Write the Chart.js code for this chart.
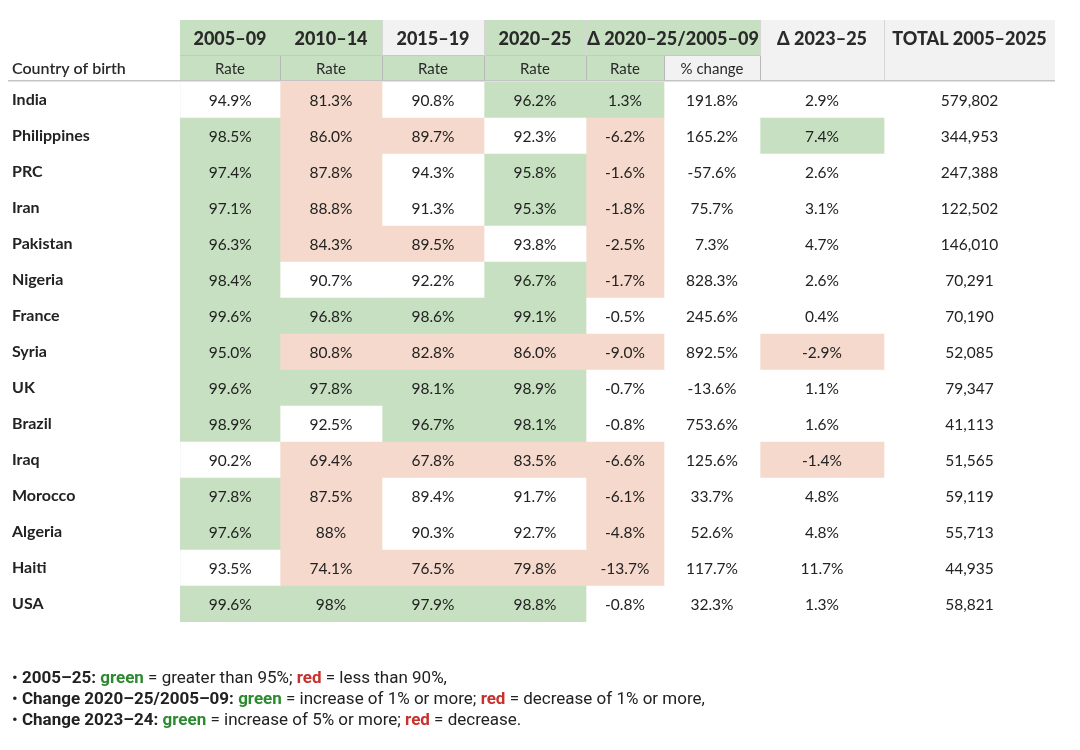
<!DOCTYPE html>
<html>
<head>
<meta charset="utf-8">
<script src="https://cdn.jsdelivr.net/npm/chart.js@4.4.1/dist/chart.umd.min.js"></script>
<style>
  body { margin: 0; background: #fff; }
  #wrap { position: relative; width: 1080px; height: 750px; }
  #notes { position: absolute; left: 12px; top: 667px; font: 17px Roboto, sans-serif; color: #222; line-height: 21px; }
  #notes b { font-weight: bold; }
  .g { color: #2b8a2f; font-weight: bold; }
  .r { color: #c9302c; font-weight: bold; }
</style>
</head>
<body>
<div id="wrap">
  <canvas id="table"></canvas>
  <div id="notes">
    <div>• <b>2005–25:</b> <span class="g">green</span> = greater than 95%; <span class="r">red</span> = less than 90%,</div>
    <div>• <b>Change 2020–25/2005–09:</b> <span class="g">green</span> = increase of 1% or more; <span class="r">red</span> = decrease of 1% or more,</div>
    <div>• <b>Change 2023–24:</b> <span class="g">green</span> = increase of 5% or more; <span class="r">red</span> = decrease.</div>
  </div>
</div>
<script>
const countries = ['India', 'Philippines', 'PRC', 'Iran', 'Pakistan', 'Nigeria', 'France', 'Syria',
  'UK', 'Brazil', 'Iraq', 'Morocco', 'Algeria', 'Haiti', 'USA'];

const headerTop = ['2005–09', '2010–14', '2015–19', '2020–25', 'Δ 2020–25/2005–09', 'Δ 2023–25', 'TOTAL 2005–2025'];
const headerSub = ['Rate', 'Rate', 'Rate', 'Rate', 'Rate', '% change'];
const rowHeader = 'Country of birth';

// values as printed (some are printed without a decimal)
const rate0509 = ['94.9', '98.5', '97.4', '97.1', '96.3', '98.4', '99.6', '95.0', '99.6', '98.9', '90.2', '97.8', '97.6', '93.5', '99.6'];
const rate1014 = ['81.3', '86.0', '87.8', '88.8', '84.3', '90.7', '96.8', '80.8', '97.8', '92.5', '69.4', '87.5', '88', '74.1', '98'];
const rate1519 = ['90.8', '89.7', '94.3', '91.3', '89.5', '92.2', '98.6', '82.8', '98.1', '96.7', '67.8', '89.4', '90.3', '76.5', '97.9'];
const rate2025 = ['96.2', '92.3', '95.8', '95.3', '93.8', '96.7', '99.1', '86.0', '98.9', '98.1', '83.5', '91.7', '92.7', '79.8', '98.8'];
const deltaRate = ['1.3', '-6.2', '-1.6', '-1.8', '-2.5', '-1.7', '-0.5', '-9.0', '-0.7', '-0.8', '-6.6', '-6.1', '-4.8', '-13.7', '-0.8'];
const pctChange = ['191.8', '165.2', '-57.6', '75.7', '7.3', '828.3', '245.6', '892.5', '-13.6', '753.6', '125.6', '33.7', '52.6', '117.7', '32.3'];
const delta2325 = ['2.9', '7.4', '2.6', '3.1', '4.7', '2.6', '0.4', '-2.9', '1.1', '1.6', '-1.4', '4.8', '4.8', '11.7', '1.3'];
const total0525 = [579802, 344953, 247388, 122502, 146010, 70291, 70190, 52085, 79347, 41113, 51565, 59119, 55713, 44935, 58821];

// highlight per cell, as shaded in the source: g = green, r = red, n = none
const flag0509 = ['n', 'g', 'g', 'g', 'g', 'g', 'g', 'g', 'g', 'g', 'n', 'g', 'g', 'n', 'g'];
const flag1014 = ['r', 'r', 'r', 'r', 'r', 'n', 'g', 'r', 'g', 'n', 'r', 'r', 'r', 'r', 'g'];
const flag1519 = ['n', 'r', 'n', 'n', 'r', 'n', 'g', 'r', 'g', 'g', 'r', 'n', 'n', 'r', 'g'];
const flag2025 = ['g', 'n', 'g', 'g', 'n', 'g', 'g', 'r', 'g', 'g', 'r', 'n', 'n', 'r', 'g'];
const flagDelta = ['g', 'r', 'r', 'r', 'r', 'r', 'n', 'r', 'n', 'n', 'r', 'r', 'r', 'r', 'n'];
const flag2325 = ['n', 'g', 'n', 'n', 'n', 'n', 'n', 'r', 'n', 'n', 'r', 'n', 'n', 'n', 'n'];

// layout / style
const GREEN = '#c7e0c1', PINK = '#f5d9cc', GREY = '#f2f2f2';
const fills = { g: GREEN, r: PINK, n: '#ffffff' };
const colWidths = [100, 102, 102, 102, 78, 96, 124, 171];
const edges = colWidths.reduce((a, w) => a.concat(a[a.length - 1] + w), [0]);
const noFlags = countries.map(() => 'n');
const pct = v => v + '%';

const columns = [
  { values: rate0509, flags: flag0509, fmt: pct },
  { values: rate1014, flags: flag1014, fmt: pct },
  { values: rate1519, flags: flag1519, fmt: pct },
  { values: rate2025, flags: flag2025, fmt: pct },
  { values: deltaRate, flags: flagDelta, fmt: pct },
  { values: pctChange, flags: noFlags, fmt: pct },
  { values: delta2325, flags: flag2325, fmt: pct },
  { values: total0525, flags: noFlags, fmt: v => v.toLocaleString('en-US') }
];

// header spans: [from column, to column, fill, spans both header rows]
const topSpans = [[0, 1, GREEN], [1, 2, GREEN], [2, 3, GREY], [3, 4, GREEN], [4, 6, GREEN], [6, 7, GREY, true], [7, 8, GREY, true]];
const subFills = [GREEN, GREEN, GREEN, GREEN, GREEN, GREY];
const H_TOP = 20, H_MID = 56, H_BOT = 80;

const cellText = {
  id: 'cellText',
  afterDatasetsDraw(chart) {
    const ctx = chart.ctx;
    ctx.save();
    ctx.font = '15.5px Lato, sans-serif';
    ctx.fillStyle = '#222';
    ctx.textAlign = 'center';
    ctx.textBaseline = 'middle';
    chart.data.datasets.forEach((ds, di) => {
      const col = columns[di];
      chart.getDatasetMeta(di).data.forEach((el, i) => {
        ctx.fillText(col.fmt(col.values[i]), (el.x + el.base) / 2, el.y + 1);
      });
    });
    ctx.restore();
  }
};

const tableHeader = {
  id: 'tableHeader',
  afterDraw(chart) {
    const ctx = chart.ctx;
    const x = chart.scales.x;
    const px = v => Math.round(x.getPixelForValue(edges[v]));
    ctx.save();
    // fills
    topSpans.forEach(([a, b, fill, both]) => {
      ctx.fillStyle = fill;
      ctx.fillRect(px(a), H_TOP, px(b) - px(a), (both ? H_BOT : H_MID) - H_TOP);
    });
    subFills.forEach((fill, i) => {
      ctx.fillStyle = fill;
      ctx.fillRect(px(i), H_MID, px(i + 1) - px(i), H_BOT - H_MID);
    });
    // row separator inside the header
    ctx.fillStyle = '#b9d2b3';
    ctx.fillRect(px(0), H_MID - 1, px(6) - px(0), 1);
    // dividers
    ctx.fillStyle = '#d6d6d6';
    topSpans.forEach(([a], k) => { if (k > 1) ctx.fillRect(px(a), H_TOP, 1, H_MID - H_TOP); });
    ctx.fillStyle = '#b8b8b8';
    for (let i = 1; i < 7; i++) ctx.fillRect(px(i), H_MID, 1, H_BOT - H_MID);
    ctx.fillStyle = '#d6d6d6';
    ctx.fillRect(px(7), H_TOP, 1, H_BOT - H_TOP);
    ctx.fillStyle = '#c4c4c4';
    ctx.fillRect(8, H_BOT, px(8) - 8, 1.5);
    // texts
    ctx.fillStyle = '#2a2a2a';
    ctx.textAlign = 'center';
    ctx.textBaseline = 'middle';
    ctx.font = '900 18px Lato, sans-serif';
    topSpans.forEach(([a, b], k) => ctx.fillText(headerTop[k], (px(a) + px(b)) / 2, 39));
    ctx.font = '15px Lato, sans-serif';
    headerSub.forEach((t, i) => ctx.fillText(t, (px(i) + px(i + 1)) / 2, 69));
    ctx.textAlign = 'left';
    ctx.font = '600 16px Lato, sans-serif';
    ctx.fillText(rowHeader, 12, 69);
    ctx.restore();
  }
};

new Chart(document.getElementById('table'), {
  type: 'bar',
  data: {
    labels: countries,
    datasets: columns.map((col, c) => ({
      data: countries.map(() => [edges[c], edges[c + 1]]),
      backgroundColor: col.flags.map(f => fills[f]),
      borderWidth: 0,
      grouped: false,
      barPercentage: 1,
      categoryPercentage: 1
    }))
  },
  options: {
    indexAxis: 'y',
    responsive: true,
    maintainAspectRatio: false,
    animation: false,
    layout: { padding: { left: 12, top: 82, right: 25, bottom: 128 } },
    plugins: { legend: { display: false }, tooltip: { enabled: false } },
    scales: {
      x: {
        type: 'linear',
        min: 0,
        max: edges[edges.length - 1],
        z: 1,
        afterBuildTicks: s => { s.ticks = edges.map(v => ({ value: v })); },
        afterFit: s => { s.height = 0; },
        ticks: { display: false },
        border: { display: false },
        grid: {
          drawTicks: false,
          color: c => (c.tick && c.tick.value <= edges[6] ? '#d4d4d4' : 'rgba(0,0,0,0)')
        }
      },
      y: {
        type: 'category',
        afterFit: s => { s.width = 168; },
        border: { display: false },
        grid: { display: false },
        ticks: { crossAlign: 'far', color: '#222', font: { family: 'Lato, sans-serif', size: 16, weight: 'bold' } }
      }
    }
  },
  plugins: [cellText, tableHeader]
});
</script>
</body>
</html>
